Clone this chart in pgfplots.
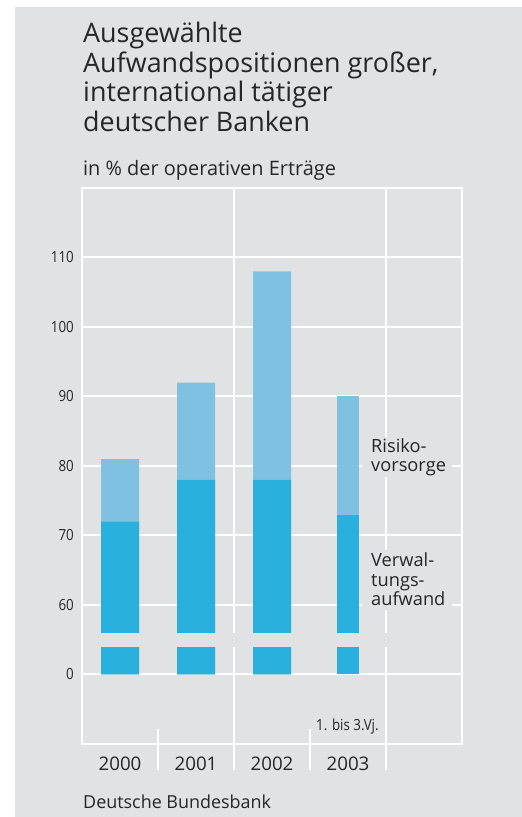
\documentclass[border=0pt]{standalone}
\usepackage{fontspec}
\setmainfont{Open Sans}
\newfontfamily\condfont[FakeStretch=0.87]{Open Sans}
\usepackage{pgfplots}
\pgfplotsset{compat=1.18}
\definecolor{bg}{HTML}{E1E2E4}
\definecolor{darkb}{HTML}{29B0DC}
\definecolor{lightb}{HTML}{7FC1E0}
\definecolor{txt}{HTML}{262626}
\begin{document}
\begin{tikzpicture}[x=1bp,y=1bp]
\useasboundingbox (0,0) rectangle (522,817);
\fill[white] (0,0) rectangle (522,817);
\fill[bg] (15,0) rectangle (522,810);
\begin{scope}[every node/.style={anchor=base west, inner sep=0, text=txt}]
\node[font=\fontsize{27}{30}\selectfont] at (83,774) {Ausgewählte};
\node[font=\fontsize{27}{30}\selectfont] at (83,744.5) {Aufwandspositionen großer,};
\node[font=\fontsize{27}{30}\selectfont] at (83,715) {international tätiger};
\node[font=\fontsize{27}{30}\selectfont] at (83,685.5) {deutscher Banken};
\node[font=\fontsize{20}{24}\selectfont] at (83,641) {in \% der operativen Erträge};
\node[font=\fontsize{18}{22}\selectfont] at (83,8) {Deutsche Bundesbank};
\end{scope}
\begin{axis}[
  at={(82bp,73bp)}, anchor=south west,
  scale only axis, width=380bp, height=556bp,
  xmin=-0.5, xmax=4.5, ymin=-10, ymax=70,
  axis line style={white, line width=2bp},
  ybar,
  y filter/.expression={y-50},
  ytick={0,10,...,60}, yticklabels={0,60,70,80,90,100,110},
  ymajorgrids, grid style={white, line width=2bp},
  major tick length=0pt,
  xtick={0,1,2,3}, xticklabels={2000,2001,2002,2003},
  yticklabel style={font=\condfont\fontsize{15.4}{16}\selectfont, text=txt, anchor=east, inner sep=0pt, xshift=-8bp},
  xticklabel style={font=\fontsize{18.8}{20}\selectfont, text=txt, anchor=base, inner sep=0pt, yshift=-27bp},
  clip=false,
]
\addplot[fill=lightb, draw=none, bar width=0.5, bar shift=0pt] coordinates {(0,81) (1,92) (2,108)};
\addplot[fill=darkb, draw=none, bar width=0.5, bar shift=0pt] coordinates {(0,72) (1,78) (2,78)};
\addplot[fill=lightb, draw=none, bar width=0.3, bar shift=0pt] coordinates {(3,90)};
\addplot[fill=darkb, draw=none, bar width=0.3, bar shift=0pt] coordinates {(3,73)};
\draw[white, line width=2bp] (axis cs:1.5,70) -- (axis cs:1.5,-13.7);
\draw[white, line width=2bp] (axis cs:3.5,70) -- (axis cs:3.5,-13.7);
\draw[white, line width=2bp] (axis cs:0.5,-7.8) -- (axis cs:0.5,-13.7);
\draw[white, line width=2bp] (axis cs:2.5,-7.8) -- (axis cs:2.5,-13.7);
\end{axis}
% break in the scale
\fill[bg] (83.1,170.3) rectangle (460.9,183.5);
% label boxes
\fill[bg] (362,340) rectangle (452,380);
\fill[bg] (362,207) rectangle (452,267);
\begin{scope}[every node/.style={anchor=base west, inner sep=0, text=txt, font=\fontsize{18.3}{20}\selectfont}]
\node at (371,364.3) {Risiko-};
\node at (371,345.3) {vorsorge};
\node at (371,250) {Verwal-};
\node at (371,230.3) {tungs-};
\node at (371,211) {aufwand};
\end{scope}
\node[anchor=base west, inner sep=0, text=txt, font=\condfont\fontsize{15.4}{16}\selectfont] at (316,86) {1. bis 3.Vj.};
\end{tikzpicture}
\end{document}
